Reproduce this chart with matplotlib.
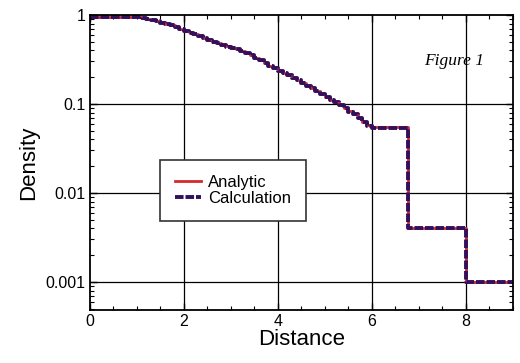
import numpy as np
import matplotlib.pyplot as plt
from matplotlib.ticker import FixedLocator, NullFormatter, LogLocator

# step edges (distance) and density on each step
edges = [0.0,
         1.0, 1.1, 1.2, 1.3, 1.4, 1.5, 1.6, 1.7, 1.8, 1.9,
         2.0, 2.1, 2.2, 2.3, 2.4, 2.5, 2.6, 2.7, 2.8, 2.9,
         3.0, 3.1, 3.2, 3.3, 3.4, 3.5, 3.6, 3.7, 3.8, 3.9,
         4.0, 4.1, 4.2, 4.3, 4.4, 4.5, 4.6, 4.7, 4.8, 4.9,
         5.0, 5.1, 5.2, 5.3, 5.4, 5.5, 5.6, 5.7, 5.8, 5.9,
         6.0, 6.77, 8.0, 9.0]
analytic = [0.94,
            0.935, 0.92, 0.90, 0.875, 0.85, 0.825, 0.80, 0.765, 0.73, 0.695,
            0.66, 0.635, 0.61, 0.58, 0.55, 0.525, 0.50, 0.48, 0.46, 0.445,
            0.43, 0.41, 0.39, 0.37, 0.35, 0.33, 0.31, 0.29, 0.27, 0.252,
            0.235, 0.222, 0.21, 0.197, 0.185, 0.172, 0.16, 0.15, 0.14, 0.13,
            0.12, 0.112, 0.105, 0.097, 0.09, 0.083, 0.077, 0.07, 0.063, 0.058,
            0.055, 0.0040, 0.0010, 0.0010]
calculation = [0.94,
               0.935, 0.92, 0.90, 0.87, 0.85, 0.82, 0.80, 0.76, 0.73, 0.70,
               0.66, 0.63, 0.61, 0.58, 0.55, 0.52, 0.50, 0.48, 0.46, 0.44,
               0.43, 0.41, 0.39, 0.37, 0.35, 0.33, 0.31, 0.29, 0.27, 0.25,
               0.235, 0.22, 0.21, 0.195, 0.185, 0.17, 0.16, 0.15, 0.14, 0.13,
               0.12, 0.11, 0.105, 0.096, 0.09, 0.082, 0.077, 0.07, 0.063, 0.057,
               0.054, 0.0040, 0.0010, 0.0010]

plt.rcParams['font.family'] = ['Liberation Sans', 'DejaVu Sans']

fig = plt.figure(figsize=(5.2, 3.63), dpi=100)
ax = fig.add_axes([0.173, 0.146, 0.813, 0.813])

ax.plot(edges, analytic, drawstyle='steps-post', color='#d42a2a', lw=2.0,
        label='Analytic')
ax.plot(edges, calculation, drawstyle='steps-post', color='#33105e', lw=2.8,
        ls=(0, (2.2, 0.5)), label='Calculation')

ax.set_yscale('log')
ax.set_xlim(0, 9)
ax.set_ylim(0.000484, 1)

ax.set_xticks([0, 2, 4, 6, 8])
ax.xaxis.set_minor_locator(FixedLocator(np.arange(0, 9.01, 0.5)))
ax.set_yticks([0.001, 0.01, 0.1, 1])
ax.set_yticklabels(['0.001', '0.01', '0.1', '1'])
ax.yaxis.set_minor_locator(LogLocator(base=10, subs=np.arange(2, 10)))
ax.yaxis.set_minor_formatter(NullFormatter())

ax.tick_params(which='both', direction='in', top=True, right=True,
               labelsize=11.5, colors='black')
ax.tick_params(which='major', length=5, width=1, pad=3)
ax.tick_params(which='minor', length=3, width=0.8)

for x in [2, 4, 6, 8]:
    ax.axvline(x, color='black', lw=0.9, zorder=0)
for y in [0.1, 0.01, 0.001]:
    ax.axhline(y, color='black', lw=0.9, zorder=0)

for s in ax.spines.values():
    s.set_linewidth(1.3)

ax.set_xlabel('Distance', fontsize=16, labelpad=0)
ax.set_ylabel('Density', fontsize=16, labelpad=5)

ax.text(7.75, 0.3, 'Figure 1', fontsize=12.5, style='italic',
        family='Liberation Serif', ha='center', va='center')

leg = ax.legend(loc='center left', bbox_to_anchor=(0.165, 0.405),
                fontsize=12, handlelength=1.6, handletextpad=0.4,
                borderpad=0.9, labelspacing=0.05, fancybox=False,
                framealpha=1, edgecolor='#333333', borderaxespad=0)
leg.get_frame().set_linewidth(1.2)

fig.savefig('out.png', dpi=100)
